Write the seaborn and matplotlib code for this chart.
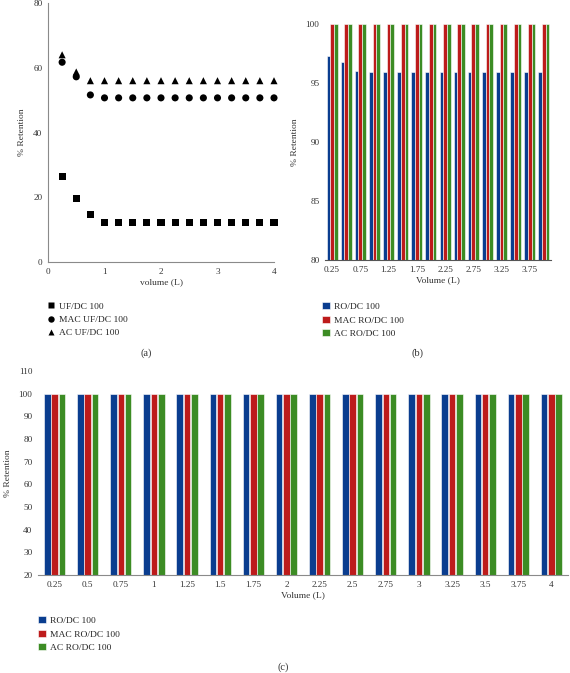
import matplotlib
matplotlib.use('Agg')
import matplotlib.pyplot as plt
import seaborn as sns
import pandas as pd
import numpy as np

# volumes (L)
volumes = [0.25, 0.5, 0.75, 1, 1.25, 1.5, 1.75, 2, 2.25, 2.5, 2.75, 3, 3.25, 3.5, 3.75, 4]
vol_labels = ['0.25', '0.5', '0.75', '1', '1.25', '1.5', '1.75', '2',
              '2.25', '2.5', '2.75', '3', '3.25', '3.5', '3.75', '4']

# (a) UF retention
uf_dc = [26.3, 19.6, 14.6, 12.3, 12.3, 12.3, 12.3, 12.3, 12.3, 12.3, 12.3, 12.3, 12.3, 12.3, 12.3, 12.3]
mac_uf_dc = [61.7, 57.2, 51.6, 50.7, 50.7, 50.7, 50.7, 50.7, 50.7, 50.7, 50.7, 50.7, 50.7, 50.7, 50.7, 50.7]
ac_uf_dc = [64.0, 58.7, 56.0, 56.0, 56.0, 56.0, 56.0, 56.0, 56.0, 56.0, 56.0, 56.0, 56.0, 56.0, 56.0, 56.0]
uf_names = ['UF/DC 100', 'MAC UF/DC 100', 'AC UF/DC 100']

# (b) RO retention
ro_dc_b = [97.3, 96.75, 96.0, 95.9, 95.9, 95.9, 95.9, 95.9, 95.9, 95.9, 95.9, 95.9, 95.9, 95.9, 95.9, 95.9]
mac_ro_dc_b = [100] * 16
ac_ro_dc_b = [100] * 16

# (c) RO retention
ro_dc_c = [100] * 16
mac_ro_dc_c = [100] * 16
ac_ro_dc_c = [100] * 16
ro_names = ['RO/DC 100', 'MAC RO/DC 100', 'AC RO/DC 100']

bar_colors = ['#0a3d8f', '#bd1b1b', '#3c8c24']
txt = '#333333'
spine_c = '#8a8a8a'
TICK = 6.6
LAB = 6.8

sns.set_style('white')
plt.rcParams['font.family'] = ['Liberation Serif', 'DejaVu Serif']
plt.rcParams['font.size'] = LAB

fig = plt.figure(figsize=(5.7, 6.73), dpi=100)
W, H = 570.0, 673.0


def rect(l, t, r, b):
    return [l / W, 1 - b / H, (r - l) / W, (b - t) / H]


def style_ax(ax, left_spine):
    for s in ['top', 'right']:
        ax.spines[s].set_visible(False)
    ax.spines['left'].set_visible(left_spine)
    ax.spines['left'].set_color(spine_c)
    ax.spines['bottom'].set_color(spine_c)
    ax.spines['left'].set_linewidth(0.8)
    ax.spines['bottom'].set_linewidth(0.8)
    ax.tick_params(length=0, labelsize=TICK, labelcolor=txt, pad=4)


# ---- (a)
df_a = pd.DataFrame({
    'volume': volumes * 3,
    'ret': uf_dc + mac_uf_dc + ac_uf_dc,
    'series': [uf_names[0]] * 16 + [uf_names[1]] * 16 + [uf_names[2]] * 16,
})
ax_a = fig.add_axes(rect(48, 3, 274, 262))
sns.scatterplot(data=df_a, x='volume', y='ret', style='series', hue='series',
                palette=['black'] * 3, markers=['s', 'o', '^'], s=26,
                edgecolor='none', ax=ax_a)
for coll in ax_a.collections:
    coll.set_clip_on(False)
ax_a.set_xlim(0, 4)
ax_a.set_ylim(0, 80)
ax_a.set_xticks([0, 1, 2, 3, 4])
ax_a.set_yticks([0, 20, 40, 60, 80])
ax_a.set_xlabel('volume (L)', fontsize=LAB, color=txt, labelpad=2)
ax_a.set_ylabel('% Retention', fontsize=LAB, color=txt, labelpad=5)
style_ax(ax_a, True)
h, l = ax_a.get_legend_handles_labels()
ax_a.legend(h, l, loc='upper left', bbox_to_anchor=(47 / W, 1 - 302 / H),
            bbox_transform=fig.transFigure, frameon=False, fontsize=LAB,
            handlelength=0.8, handletextpad=0.5, labelspacing=0.5,
            borderpad=0, borderaxespad=0, markerscale=0.9)

# ---- (b)
df_b = pd.DataFrame({
    'volume': vol_labels * 3,
    'ret': ro_dc_b + mac_ro_dc_b + ac_ro_dc_b,
    'series': [ro_names[0]] * 16 + [ro_names[1]] * 16 + [ro_names[2]] * 16,
})
ax_b = fig.add_axes(rect(325, 24, 551, 260))
sns.barplot(data=df_b, x='volume', y='ret', hue='series', palette=bar_colors,
            saturation=1, width=0.78, gap=0.0, edgecolor='white', linewidth=0.4, ax=ax_b)
ax_b.set_ylim(80, 100)
ax_b.set_yticks([80, 85, 90, 95, 100])
ax_b.set_xticks(range(0, 16, 2))
ax_b.set_xticklabels(vol_labels[0::2])
ax_b.set_xlabel('Volume (L)', fontsize=LAB, color=txt, labelpad=2)
ax_b.set_ylabel('% Retention', fontsize=LAB, color=txt, labelpad=5)
style_ax(ax_b, False)
ax_b.spines['bottom'].set_color('#555555')
h, l = ax_b.get_legend_handles_labels()
ax_b.legend(h, l, loc='upper left', bbox_to_anchor=(322 / W, 1 - 302 / H),
            bbox_transform=fig.transFigure, frameon=False, fontsize=LAB,
            handlelength=0.8, handleheight=0.8, handletextpad=0.5,
            labelspacing=0.5, borderpad=0, borderaxespad=0)

# ---- (c)
df_c = pd.DataFrame({
    'volume': vol_labels * 3,
    'ret': ro_dc_c + mac_ro_dc_c + ac_ro_dc_c,
    'series': [ro_names[0]] * 16 + [ro_names[1]] * 16 + [ro_names[2]] * 16,
})
ax_c = fig.add_axes(rect(38, 371, 568, 575))
sns.barplot(data=df_c, x='volume', y='ret', hue='series', palette=bar_colors,
            saturation=1, width=0.66, gap=0.1, edgecolor='white', linewidth=0.4, ax=ax_c)
ax_c.set_ylim(20, 110)
ax_c.set_yticks(np.arange(20, 111, 10))
ax_c.set_xlabel('Volume (L)', fontsize=LAB, color=txt, labelpad=2)
ax_c.set_ylabel('% Retention', fontsize=LAB, color=txt, labelpad=5)
style_ax(ax_c, False)
h, l = ax_c.get_legend_handles_labels()
ax_c.legend(h, l, loc='upper left', bbox_to_anchor=(38 / W, 1 - 616 / H),
            bbox_transform=fig.transFigure, frameon=False, fontsize=LAB,
            handlelength=0.8, handleheight=0.8, handletextpad=0.5,
            labelspacing=0.5, borderpad=0, borderaxespad=0)

fig.text(146 / W, 1 - 353 / H, '(a)', ha='center', va='center', fontsize=7.5, color=txt)
fig.text(418 / W, 1 - 353 / H, '(b)', ha='center', va='center', fontsize=7.5, color=txt)
fig.text(283 / W, 1 - 667 / H, '(c)', ha='center', va='center', fontsize=7.5, color=txt)

fig.savefig('out.png', dpi=100, facecolor='white')
